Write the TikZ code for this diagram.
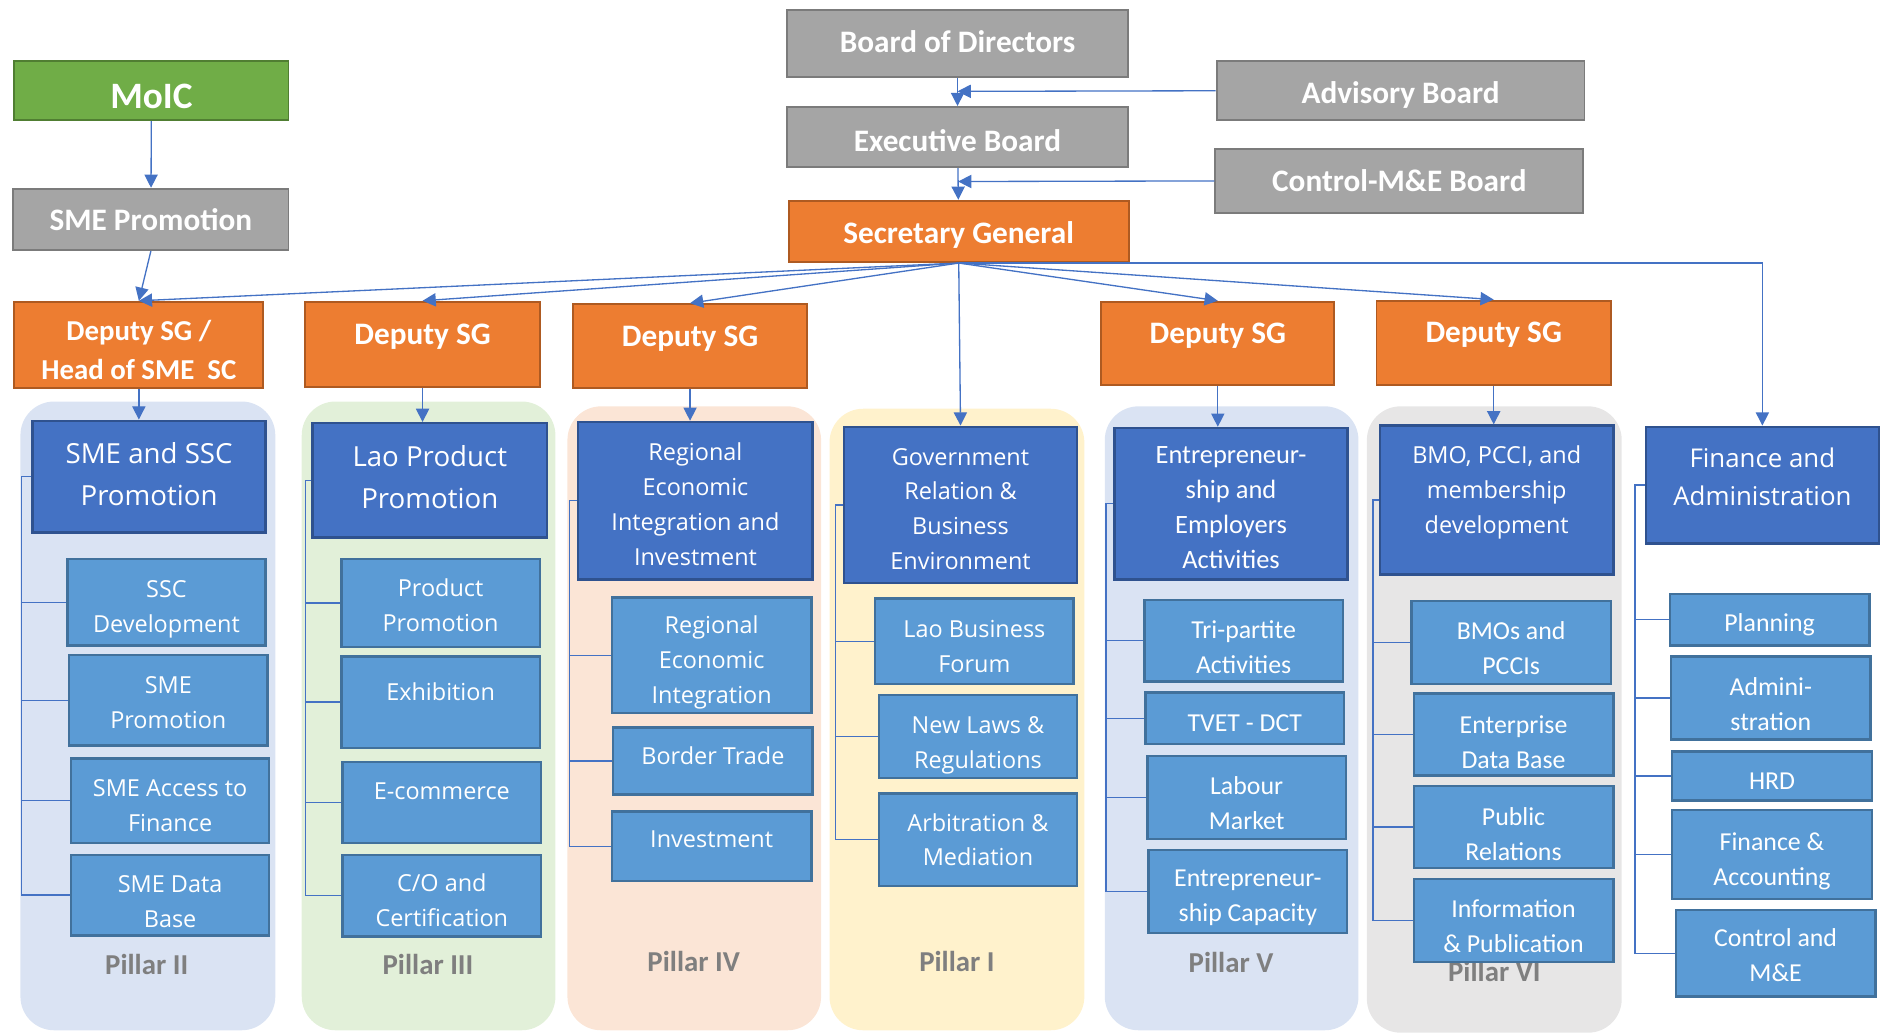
\documentclass[tikz,border=0pt]{standalone}
\usepackage{fontspec}
\setmainfont{Carlito}
\newfontfamily\segoe{Open Sans}
\usetikzlibrary{arrows.meta}
\definecolor{cgreen}{HTML}{70AD47}
\definecolor{cgreenD}{HTML}{507E32}
\definecolor{cgrey}{HTML}{A5A5A5}
\definecolor{cgreyD}{HTML}{7B7B7B}
\definecolor{corange}{HTML}{ED7D31}
\definecolor{corangeD}{HTML}{AE5A21}
\definecolor{cblue}{HTML}{4472C4}
\definecolor{cblueD}{HTML}{2F528F}
\definecolor{clight}{HTML}{5B9BD5}
\definecolor{clightD}{HTML}{41719C}
\definecolor{clink}{HTML}{4472C4}
\definecolor{cpillar}{HTML}{7F7F7F}
\definecolor{bgblue}{HTML}{DAE3F3}
\definecolor{bggreen}{HTML}{E2F0D9}
\definecolor{bgpeach}{HTML}{FBE5D6}
\definecolor{bgyellow}{HTML}{FFF2CC}
\definecolor{bggrey}{HTML}{E7E6E6}
\newcommand\pushdown[1]{\mbox{}\\[#1]}
\newcommand\pushup[1]{\\[#1]\mbox{}}

\begin{document}
\begin{tikzpicture}[x=1pt,y=-1pt]
\tikzset{
  box/.style={rectangle,draw,line width=1.6pt,inner sep=2pt,align=center,text=white},
  moicbox/.style={box,fill=cgreen,draw=cgreenD,font=\bfseries\fontsize{31}{36}\selectfont},
  greybox/.style={box,fill=cgrey,draw=cgreyD,font=\bfseries\fontsize{26}{30}\selectfont},
  orangebox/.style={box,fill=corange,draw=corangeD,font=\bfseries\fontsize{26}{30}\selectfont},
  deputybox/.style={orangebox,text height=17pt,text depth=17pt},
  mainbox/.style={box,fill=cblue,draw=cblueD,line width=2pt,font=\segoe\fontsize{19.5}{29}\selectfont},
  mainboxc/.style={mainbox,font=\fontsize{22}{29}\selectfont},
  subbox/.style={box,fill=clight,draw=clightD,line width=2pt,minimum width=165pt,font=\segoe\fontsize{19.5}{29}\selectfont},
  subboxc/.style={subbox,font=\fontsize{21.5}{29}\selectfont},
  lift/.style={text height=14pt,text depth=#1},
  texth/.style={text height=#1,text depth=0pt},
  pillarbg/.style={fill=#1,rounded corners=28pt},
  pillarlabel/.style={font=\bfseries\fontsize{24}{28}\selectfont,text=cpillar},
  link/.style={draw=clink,line width=1.1pt},
  arrow/.style={link,-{Triangle[length=11pt,width=11pt]}}
}
\useasboundingbox (0,0) rectangle (1568,859);
\fill[pillarbg=bgblue] (17,334) rectangle (229,857);
\fill[pillarbg=bggreen] (251,334) rectangle (462,857);
\fill[pillarbg=bgpeach] (472,338) rectangle (683,857);
\fill[pillarbg=bgyellow] (690,340) rectangle (902,857);
\fill[pillarbg=bgblue] (919,338) rectangle (1130,857);
\fill[pillarbg=bggrey] (1137,338) rectangle (1349,859);
\node[pillarlabel] (n_p2) at (122,802) {Pillar II};
\node[pillarlabel] (n_p3) at (356,802) {Pillar III};
\node[pillarlabel] (n_p4) at (577,800) {Pillar IV};
\node[pillarlabel] (n_p1) at (796,800) {Pillar I};
\node[pillarlabel] (n_p5) at (1024,801) {Pillar V};
\node[pillarlabel] (n_p6) at (1243,808) {Pillar VI};
\node[moicbox,texth=29pt,minimum width=228pt,minimum height=49pt] (n_moic) at (126,75.5) {MoIC};
\node[greybox,minimum width=229pt,minimum height=51pt] (n_smep) at (125.5,182.5) {SME Promotion};
\node[greybox,text height=19.5pt,text depth=4pt,minimum width=283pt,minimum height=56pt] (n_bod) at (796.5,36) {Board of Directors};
\node[greybox,texth=22pt,minimum width=306pt,minimum height=49pt] (n_adv) at (1165,75.5) {Advisory Board};
\node[greybox,texth=23.5pt,minimum width=283pt,minimum height=50pt] (n_exb) at (796.5,114) {Executive Board};
\node[greybox,minimum width=306pt,minimum height=53pt] (n_ctl) at (1164,150.5) {Control-M\&E Board};
\node[orangebox,texth=20pt,minimum width=283pt,minimum height=51pt] (n_sg) at (797.5,192.5) {Secretary General};
\node[orangebox,font=\bfseries\fontsize{24}{32}\selectfont,minimum width=207pt,minimum height=72pt] (n_d2) at (115.5,287) {\pushdown{-7pt}Deputy SG /\\Head of SME~ SC};
\node[deputybox,minimum width=195pt,minimum height=71pt] (n_d3) at (351.5,286.5) {Deputy SG};
\node[deputybox,minimum width=194pt,minimum height=70pt] (n_d4) at (574,288) {Deputy SG};
\node[deputybox,minimum width=194pt,minimum height=69pt] (n_d5) at (1013,285.5) {Deputy SG};
\node[deputybox,minimum width=195pt,minimum height=70pt] (n_d6) at (1242.5,285) {Deputy SG};
\node[mainbox,font=\segoe\fontsize{23}{35}\selectfont,minimum width=194pt,minimum height=93pt] (n_m2) at (124,396.5) {SME and SSC\\Promotion\pushup{-31pt}};
\node[mainbox,font=\segoe\fontsize{23}{35}\selectfont,minimum width=195pt,minimum height=95pt] (n_m3) at (357.5,399.5) {Lao Product\\Promotion\pushup{-29pt}};
\node[mainbox,minimum width=195pt,minimum height=131pt] (n_m4) at (578.5,416.5) {\pushdown{-8pt}Regional\\Economic\\Integration and\\Investment};
\node[mainbox,minimum width=194pt,minimum height=130pt] (n_m1) at (799,420) {\pushdown{-8pt}Government\\Relation \&\\Business\\Environment};
\node[mainboxc,minimum width=194pt,minimum height=126pt] (n_m5) at (1024,419) {\pushdown{-8pt}Entrepreneur-\\ship and\\Employers\\Activities};
\node[mainbox,minimum width=194pt,minimum height=124pt] (n_m6) at (1245,416) {BMO, PCCI, and\\membership\\development\pushup{-12pt}};
\node[mainbox,font=\segoe\fontsize{21.5}{32}\selectfont,minimum width=194pt,minimum height=97pt] (n_fin) at (1466,403.5) {Finance and\\Administration\pushup{-18pt}};
\node[subbox,minimum height=72pt] (n_s2a) at (138.5,501) {\pushdown{-3.5pt}SSC\\Development};
\node[subbox,minimum height=75pt] (n_s2b) at (140,582.5) {\pushdown{-10.5pt}SME\\Promotion};
\node[subbox,minimum height=70pt] (n_s2c) at (141.5,666) {\pushdown{-6.5pt}SME Access to\\Finance};
\node[subbox,minimum height=67pt] (n_s2d) at (141.5,744.5) {\pushdown{-3.5pt}SME Data\\Base};
\node[subbox,minimum height=73pt] (n_s3a) at (366.5,501.5) {\pushdown{-11pt}Product\\Promotion};
\node[subbox,lift=16pt,minimum height=76pt] (n_s3b) at (366.5,584) {Exhibition};
\node[subbox,lift=19pt,minimum height=67pt] (n_s3c) at (367.5,667.5) {E-commerce};
\node[subbox,minimum height=68pt] (n_s3d) at (367.5,745) {\pushdown{-7pt}C/O and\\Certification};
\node[subbox,minimum width=166pt,minimum height=96pt] (n_s4a) at (592,545) {\pushdown{-2pt}Regional\\Economic\\Integration};
\node[subbox,lift=8pt,minimum width=166pt,minimum height=56pt] (n_s4b) at (593,633) {Border Trade};
\node[subbox,lift=12pt,minimum width=166pt,minimum height=58pt] (n_s4c) at (592,704) {Investment};
\node[subbox,minimum height=71pt] (n_s1a) at (810.5,533.5) {\pushdown{-6pt}Lao Business\\Forum};
\node[subbox,minimum height=69pt] (n_s1b) at (813.5,612.5) {\pushdown{-0.5pt}New Laws \&\\Regulations};
\node[subbox,minimum height=77pt] (n_s1c) at (813.5,698.5) {Arbitration \&\\Mediation};
\node[subboxc,minimum height=68pt] (n_s5a) at (1034.5,533) {\pushdown{-4pt}Tri-partite\\Activities};
\node[subboxc,texth=22pt,minimum height=43pt] (n_s5b) at (1035.5,597.5) {TVET - DCT};
\node[subboxc,minimum height=69pt] (n_s5c) at (1037,663.5) {\pushdown{-5pt}Labour\\Market};
\node[subboxc,minimum height=69pt] (n_s5d) at (1038,741.5) {\pushdown{-4pt}Entrepreneur-\\ship Capacity};
\node[subboxc,minimum width=166pt,minimum height=69pt] (n_s6a) at (1257,534.5) {\pushdown{-5pt}BMOs and\\PCCIs};
\node[subboxc,minimum width=166pt,minimum height=68pt] (n_s6b) at (1259,611) {\pushdown{-2pt}Enterprise\\Data Base};
\node[subboxc,minimum width=166pt,minimum height=68pt] (n_s6c) at (1259,688) {\pushdown{-3pt}Public\\Relations};
\node[subboxc,minimum width=166pt,minimum height=69pt] (n_s6d) at (1259,765.5) {\pushdown{-5pt}Information\\\& Publication};
\node[subboxc,texth=19pt,minimum width=166pt,minimum height=43pt] (n_fa) at (1472,515.5) {Planning};
\node[subboxc,minimum width=166pt,minimum height=69pt] (n_fb) at (1473,580.5) {\pushdown{-3pt}Admini-\\stration};
\node[subboxc,texth=23pt,minimum width=166pt,minimum height=41pt] (n_fc) at (1474,645.5) {HRD};
\node[subboxc,minimum width=166pt,minimum height=74pt] (n_fd) at (1474,711) {\pushdown{-3pt}Finance \&\\Accounting};
\node[subboxc,minimum width=166pt,minimum height=72pt] (n_fe) at (1477,793) {\pushdown{-11pt}Control and\\M\&E};
\draw[arrow] (n_moic) -- (n_smep);
\draw[arrow] (n_smep.south) -- (n_d2.north);
\draw[arrow] (n_bod) -- (n_exb);
\coordinate (c_adv) at (796.5,76);
\draw[arrow] (n_adv.west) -- (c_adv);
\draw[arrow] (n_exb) -- (n_sg);
\coordinate (c_ctl) at (797,151);
\draw[arrow] (n_ctl.west) -- (c_ctl);
\draw[arrow] (n_sg.south) -- (n_d2.north);
\draw[arrow] (n_sg.south) -- (n_d3.north);
\draw[arrow] (n_sg.south) -- (n_d4.north);
\draw[arrow] (n_sg.south) -- (n_d5.north);
\draw[arrow] (n_sg.south) -- (n_d6.north);
\draw[arrow] (n_sg.south) -- (n_m1.north);
\draw[arrow] (n_sg.south) -| (n_fin.north);
\draw[arrow] (n_d2.south) -- (n_d2.south |- n_m2.north);
\draw[arrow] (n_d3.south) -- (n_d3.south |- n_m3.north);
\draw[arrow] (n_d4.south) -- (n_d4.south |- n_m4.north);
\draw[arrow] (n_d5.south) -- (n_d5.south |- n_m5.north);
\draw[arrow] (n_d6.south) -- (n_d6.south |- n_m6.north);
\draw[link] (n_m2.west) -- ++(-8,0) |- (n_s2a.west);
\draw[link] (n_m2.west) -- ++(-8,0) |- (n_s2b.west);
\draw[link] (n_m2.west) -- ++(-8,0) |- (n_s2c.west);
\draw[link] (n_m2.west) -- ++(-8,0) |- (n_s2d.west);
\draw[link] (n_m3.west) -- ++(-5,0) |- (n_s3a.west);
\draw[link] (n_m3.west) -- ++(-5,0) |- (n_s3b.west);
\draw[link] (n_m3.west) -- ++(-5,0) |- (n_s3c.west);
\draw[link] (n_m3.west) -- ++(-5,0) |- (n_s3d.west);
\draw[link] (n_m4.west) -- ++(-6,0) |- (n_s4a.west);
\draw[link] (n_m4.west) -- ++(-6,0) |- (n_s4b.west);
\draw[link] (n_m4.west) -- ++(-6,0) |- (n_s4c.west);
\draw[link] (n_m1.west) -- ++(-6,0) |- (n_s1a.west);
\draw[link] (n_m1.west) -- ++(-6,0) |- (n_s1b.west);
\draw[link] (n_m1.west) -- ++(-6,0) |- (n_s1c.west);
\draw[link] (n_m5.west) -- ++(-6,0) |- (n_s5a.west);
\draw[link] (n_m5.west) -- ++(-6,0) |- (n_s5b.west);
\draw[link] (n_m5.west) -- ++(-6,0) |- (n_s5c.west);
\draw[link] (n_m5.west) -- ++(-6,0) |- (n_s5d.west);
\draw[link] (n_m6.west) -- ++(-5,0) |- (n_s6a.west);
\draw[link] (n_m6.west) -- ++(-5,0) |- (n_s6b.west);
\draw[link] (n_m6.west) -- ++(-5,0) |- (n_s6c.west);
\draw[link] (n_m6.west) -- ++(-5,0) |- (n_s6d.west);
\draw[link] (n_fin.west) -- ++(-8,0) |- (n_fa.west);
\draw[link] (n_fin.west) -- ++(-8,0) |- (n_fb.west);
\draw[link] (n_fin.west) -- ++(-8,0) |- (n_fc.west);
\draw[link] (n_fin.west) -- ++(-8,0) |- (n_fd.west);
\draw[link] (n_fin.west) -- ++(-8,0) |- (n_fe.west);
\end{tikzpicture}
\end{document}
